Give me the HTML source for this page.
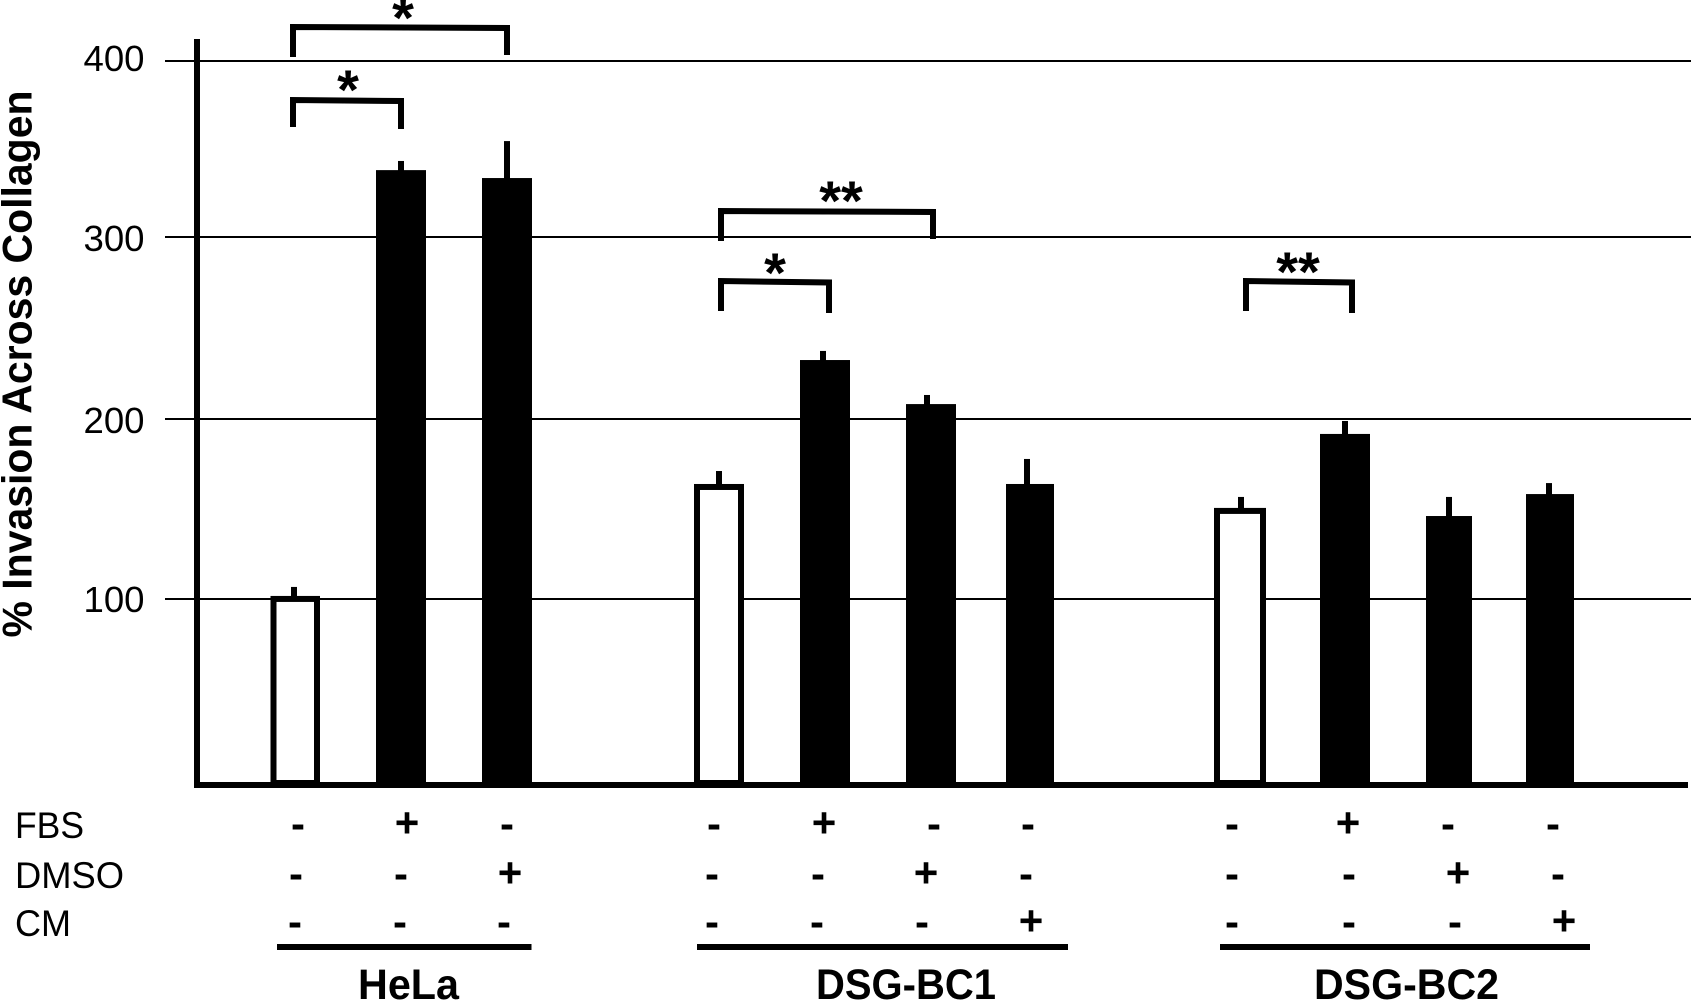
<!DOCTYPE html>
<html lang="en">
<head>
<meta charset="utf-8">
<title>% Invasion Across Collagen</title>
<style>
html,body{margin:0;padding:0;background:#fff;}
svg{display:block;}
text{font-family:"Liberation Sans",Arial,sans-serif;fill:#000;}
.row-label{font-size:37px;}
.sign{font-size:42px;font-weight:bold;text-anchor:middle;}
.star{font-size:56px;font-weight:bold;text-anchor:middle;}
.group{font-size:42.5px;font-weight:bold;}
.bracket{fill:none;stroke:#000;stroke-width:6;stroke-linejoin:miter;}
</style>
</head>
<body>
<svg id="chart" width="1691" height="1003" viewBox="0 0 1691 1003" xmlns="http://www.w3.org/2000/svg">
  <rect x="0" y="0" width="1691" height="1003" fill="#fff"/>
  <g id="grid"></g>
  <g id="ticks"></g>
  <g id="bars"></g>
  <rect x="194" y="39" width="6" height="749" fill="#000"/>
  <rect x="195" y="782" width="1493" height="6" fill="#000"/>

  <text x="31.500" y="637.500" transform="rotate(-90 31.500 637.500)" font-size="42" font-weight="bold" textLength="547" lengthAdjust="spacingAndGlyphs">% Invasion Across Collagen</text>

  <path class="bracket" d="M293 57V27L507 28V55"/>
  <path class="bracket" d="M293 127V100L401 101V129"/>
  <path class="bracket" d="M721 241V211L933 212V239"/>
  <path class="bracket" d="M721 311V281L829 282.500V313"/>
  <path class="bracket" d="M1246 311V281L1352 282.500V313"/>
  <text class="star" x="403" y="37">*</text>
  <text class="star" x="348" y="109">*</text>
  <text class="star" x="841" y="220">**</text>
  <text class="star" x="775" y="292">*</text>
  <text class="star" x="1298" y="291">**</text>

  <text class="row-label" x="15" y="838" textLength="69" lengthAdjust="spacingAndGlyphs">FBS</text>
  <text class="row-label" x="15" y="888" textLength="109" lengthAdjust="spacingAndGlyphs">DMSO</text>
  <text class="row-label" x="15" y="936" textLength="56" lengthAdjust="spacingAndGlyphs">CM</text>

  <g>
    <text class="sign" x="298" y="838">-</text>
    <text class="sign" x="407" y="837">+</text>
    <text class="sign" x="507" y="838">-</text>
    <text class="sign" x="714" y="838">-</text>
    <text class="sign" x="824" y="837">+</text>
    <text class="sign" x="934" y="838">-</text>
    <text class="sign" x="1028" y="838">-</text>
    <text class="sign" x="1232" y="838">-</text>
    <text class="sign" x="1348" y="837">+</text>
    <text class="sign" x="1448" y="838">-</text>
    <text class="sign" x="1553" y="838">-</text>
  </g>
  <g>
    <text class="sign" x="296" y="888">-</text>
    <text class="sign" x="401" y="888">-</text>
    <text class="sign" x="510" y="887">+</text>
    <text class="sign" x="712" y="888">-</text>
    <text class="sign" x="818" y="888">-</text>
    <text class="sign" x="926" y="887">+</text>
    <text class="sign" x="1026" y="888">-</text>
    <text class="sign" x="1232" y="888">-</text>
    <text class="sign" x="1349" y="888">-</text>
    <text class="sign" x="1458" y="887">+</text>
    <text class="sign" x="1558" y="888">-</text>
  </g>
  <g>
    <text class="sign" x="295" y="936">-</text>
    <text class="sign" x="400" y="936">-</text>
    <text class="sign" x="504" y="936">-</text>
    <text class="sign" x="712" y="936">-</text>
    <text class="sign" x="817" y="936">-</text>
    <text class="sign" x="922" y="936">-</text>
    <text class="sign" x="1031" y="935">+</text>
    <text class="sign" x="1232" y="936">-</text>
    <text class="sign" x="1349" y="936">-</text>
    <text class="sign" x="1455" y="936">-</text>
    <text class="sign" x="1564" y="935">+</text>
  </g>

  <rect x="277" y="944" width="254.500" height="6" fill="#000"/>
  <rect x="697" y="944" width="371" height="6" fill="#000"/>
  <rect x="1220" y="944" width="370" height="6" fill="#000"/>
  <text class="group" x="358" y="999" textLength="101" lengthAdjust="spacingAndGlyphs">HeLa</text>
  <text class="group" x="816" y="999" textLength="180" lengthAdjust="spacingAndGlyphs">DSG-BC1</text>
  <text class="group" x="1314" y="999" textLength="185" lengthAdjust="spacingAndGlyphs">DSG-BC2</text>
</svg>

<script>
// Data
const categories = ['HeLa control','HeLa FBS','HeLa DMSO','BC1 control','BC1 FBS','BC1 DMSO','BC1 CM','BC2 control','BC2 FBS','BC2 DMSO','BC2 CM'];
const means = [101.7, 338, 333.5, 163.9, 232.4, 208.2, 163.9, 150.6, 191.7, 146.1, 158.3];
const errors = [5, 5.2, 21, 7.2, 5, 5, 13.9, 6.1, 7.2, 10.6, 6.1];
const barKinds = ['open','solid','solid','open','solid','solid','solid','open','solid','solid','solid'];
const tickValues = [100, 200, 300, 400];
const tickLabels = ['100', '200', '300', '400'];

// Layout, kept apart from the data
const slotLeft = [270.5, 376, 482, 694, 800, 906, 1006, 1214, 1320, 1426, 1526];
const slotWidth = [49.5, 50, 50, 50, 50, 50, 48, 52, 50, 46, 48];
const errorCenter = [294, 401, 507, 719, 823, 927, 1027, 1241, 1345, 1449, 1549];
const axisBase = 785;
const bandSize = 100;
const bandPixels = [186, 180, 182, 176];
const tickLabelOffset = {100: 13, 200: 14, 300: 14, 400: 10};

function yScale(value) {
  let y = axisBase;
  let rest = value;
  for (let i = 0; i < bandPixels.length; i++) {
    const isLast = i === bandPixels.length - 1;
    const part = isLast ? rest : Math.min(rest, bandSize);
    y -= part / bandSize * bandPixels[i];
    rest -= part;
    if (rest <= 0) break;
  }
  return y;
}
function xLeft(i) { return slotLeft[i]; }
function xWidth(i) { return slotWidth[i]; }

const NS = 'http://www.w3.org/2000/svg';
function make(tag, attrs, parent) {
  const el = document.createElementNS(NS, tag);
  for (const k in attrs) el.setAttribute(k, attrs[k]);
  parent.appendChild(el);
  return el;
}

const gridLayer = document.getElementById('grid');
const tickLayer = document.getElementById('ticks');
const barLayer = document.getElementById('bars');

tickValues.forEach(function (v, i) {
  const line = make('rect', {x: 165, y: yScale(v) - 1, width: 1526, height: 2, fill: '#000'}, gridLayer);
  
  
  const label = make('text', {x: 83.5, y: yScale(v) + tickLabelOffset[v], textLength: 61, lengthAdjust: 'spacingAndGlyphs', 'font-size': 36.5}, tickLayer);
  label.textContent = tickLabels[i];
  
  
});

categories.forEach(function (name, i) {
  const slug = name.toLowerCase().replace(/\s+/g, '-');
  const top = yScale(means[i]);
  const errTop = yScale(means[i] + errors[i]);
  const err = make('rect', {x: errorCenter[i] - 3, y: errTop, width: 6, height: top - errTop + 1, fill: '#000'}, barLayer);
  
  
  let bar;
  if (barKinds[i] === 'open') {
    bar = make('rect', {x: xLeft(i) + 3, y: top + 3, width: xWidth(i) - 6, height: axisBase - 2 - top - 3, fill: '#fff', stroke: '#000', 'stroke-width': 6}, barLayer);
  } else {
    bar = make('rect', {x: xLeft(i), y: top, width: xWidth(i), height: axisBase - top, fill: '#000'}, barLayer);
  }
  
  
});
</script>
</body>
</html>
